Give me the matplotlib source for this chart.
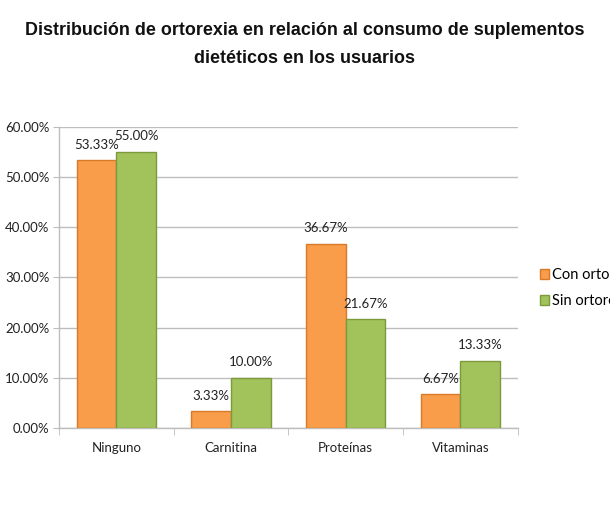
import matplotlib.pyplot as plt
import numpy as np
from matplotlib.ticker import FuncFormatter

categories = ["Ninguno", "Carnitina", "Proteínas", "Vitaminas"]
con_ortorexia = [53.33, 3.33, 36.67, 6.67]
sin_ortorexia = [55.00, 10.00, 21.67, 13.33]
series_names = ["Con ortorexia", "Sin ortorexia"]

orange = "#F99D4A"
orange_edge = "#D9792A"
green = "#A2C25C"
green_edge = "#7C9A3C"
grid_gray = "#BDBDBD"

fig = plt.figure(figsize=(6.1, 5.27), dpi=100)
ax = fig.add_axes([0.0967, 0.188, 0.752, 0.571])

x = np.arange(len(categories))
w = 0.345

b1 = ax.bar(x - w / 2, con_ortorexia, w, color=orange, edgecolor=orange_edge,
            linewidth=1.0, label=series_names[0], zorder=3)
b2 = ax.bar(x + w / 2, sin_ortorexia, w, color=green, edgecolor=green_edge,
            linewidth=1.0, label=series_names[1], zorder=3)

label_font = dict(family="Lato", size=9.5, color="#222222")
for bars, vals in ((b1, con_ortorexia), (b2, sin_ortorexia)):
    for bar, v in zip(bars, vals):
        ax.annotate(f"{v:.2f}%",
                    (bar.get_x() + bar.get_width() / 2, v),
                    xytext=(0, 7), textcoords="offset points",
                    ha="center", va="bottom", **label_font)

ax.set_xlim(-0.5, len(categories) - 0.5)
ax.set_ylim(0, 60)
ax.set_yticks(np.arange(0, 61, 10))
ax.yaxis.set_major_formatter(FuncFormatter(lambda v, p: f"{v:.2f}%"))
ax.set_xticks(x)
ax.set_xticklabels(categories)
ax.set_xticks(np.arange(-0.5, len(categories), 1), minor=True)

ax.grid(axis="y", color=grid_gray, linewidth=1.0, zorder=0)
for side in ("top", "right"):
    ax.spines[side].set_visible(False)
for side in ("left", "bottom"):
    ax.spines[side].set_color(grid_gray)
    ax.spines[side].set_linewidth(1.0)

ax.tick_params(axis="x", which="major", length=0, pad=10)
ax.tick_params(axis="x", which="minor", length=5, color=grid_gray, direction="out")
ax.tick_params(axis="y", length=4, color=grid_gray, pad=3)
for lab in ax.get_xticklabels() + ax.get_yticklabels():
    lab.set_fontfamily("Lato")
    lab.set_fontsize(9.5)
    lab.set_color("#222222")

# legend runs past the right edge, as in the source image
leg = ax.legend(loc="center left", bbox_to_anchor=(1.02, 0.465), frameon=False,
                prop={"family": "Lato", "size": 10.5}, handlelength=0.65,
                handleheight=0.65, handletextpad=0.2, labelspacing=0.8)

fig.text(0.5, 0.943, "Distribución de ortorexia en relación al consumo de suplementos",
         ha="center", va="center", family="Liberation Sans", weight="bold",
         size=12.9, color="#111111")
fig.text(0.5, 0.889, "dietéticos en los usuarios",
         ha="center", va="center", family="Liberation Sans", weight="bold",
         size=12.9, color="#111111")

fig.savefig("out.png", dpi=100)
